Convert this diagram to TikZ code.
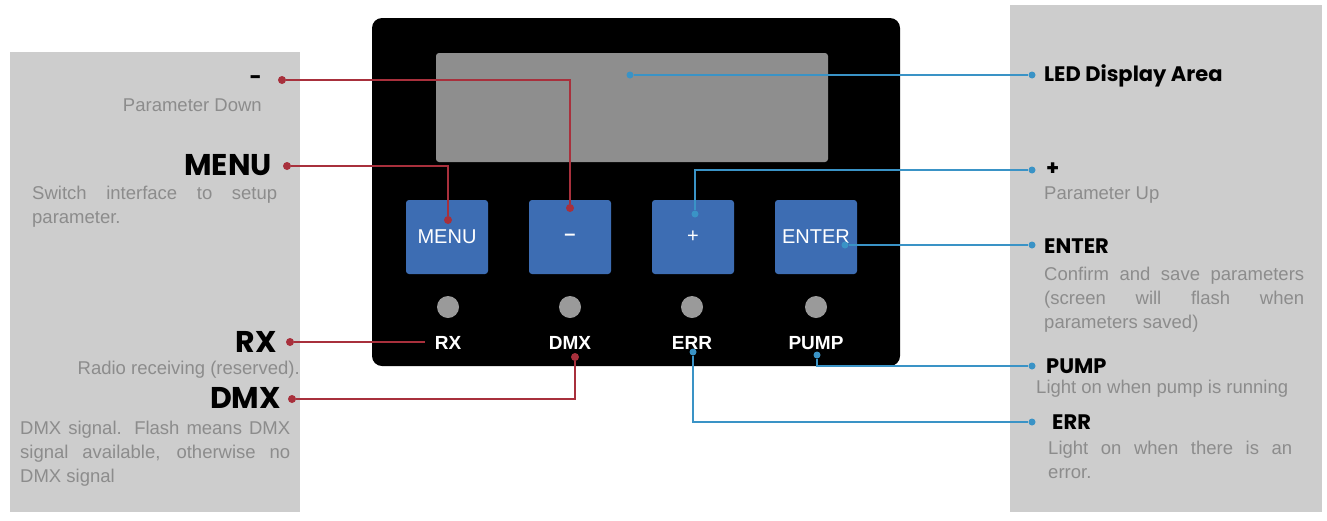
\documentclass[tikz,border=0pt]{standalone}
\usepackage{fontspec}
\setmainfont{Liberation Sans}
\newfontfamily\headfont{Poppins}
\definecolor{panelgray}{HTML}{CDCDCD}
\definecolor{bodygray}{HTML}{8C8C8C}
\definecolor{btnblue}{HTML}{3D6DB3}
\definecolor{lcdgray}{HTML}{8E8E8E}
\definecolor{ledgray}{HTML}{9A9A9A}
\definecolor{redline}{HTML}{A8303C}
\definecolor{blueline}{HTML}{3A93C6}
\newcommand{\spreadline}[2]{\makebox[#1][s]{#2}}
\begin{document}
\begin{tikzpicture}[x=1pt,y=-1pt,
        button/.style={draw=none, fill=btnblue, rounded corners=3pt, minimum width=82pt, minimum height=74pt, text=white, font=\fontsize{20}{22}\selectfont},
        led/.style={circle, fill=ledgray, minimum size=22pt, inner sep=0pt},
        ledlabel/.style={text=white, font=\bfseries\fontsize{19}{20}\selectfont},
        head/.style={font=\headfont\bfseries\fontsize{#1}{#1}\selectfont, inner sep=0pt},
        head/.default=21,
        body/.style={text=bodygray, font=\fontsize{18.5}{24}\selectfont, inner sep=0pt, align=left},
        redwire/.style={redline, line width=1.6pt},
        bluewire/.style={blueline, line width=1.6pt},
        reddot/.style={circle, fill=redline, minimum size=8pt, inner sep=0pt},
        bluedot/.style={circle, fill=blueline, minimum size=7pt, inner sep=0pt},
        ]

        \useasboundingbox (0,0) rectangle (1327,520);

        % Panels
        \fill[panelgray] (10,52) rectangle (300,512);
        \fill[panelgray] (1010,5) rectangle (1322,512);

        % Device
        \fill[black, rounded corners=10pt] (372,18) rectangle (900,366);
        \fill[lcdgray, rounded corners=3pt] (436,53) rectangle (828,162);

        % Buttons
        \node[button] (menu) at (447,237) {MENU};
        \node[button] (minus) at (570,237) {\textbf{--}};
        \node[button] (plus) at (693,237) {+};
        \node[button] (enter) at (816,237) {ENTER};

        % LEDs
        \node[led] (rxled) at (448,307) {};
        \node[led] (dmxled) at (570,307) {};
        \node[led] (errled) at (692,307) {};
        \node[led] (pumpled) at (816,307) {};
        \node[ledlabel] (rx) at (448,343) {RX};
        \node[ledlabel] (dmx) at (570,343) {DMX};
        \node[ledlabel] (err) at (692,343) {ERR};
        \node[ledlabel] (pump) at (816,343) {PUMP};

        % Left texts
        \node[head, anchor=east] (tminus) at (262,80) {-};
        \node[body, anchor=east] at (262,105) {Parameter Down};
        \node[head=30, anchor=east] (tmenu) at (272,165) {MENU};
        \node[body, anchor=north west] at (32,186) {\spreadline{245pt}{Switch interface to setup}\\parameter.};
        \node[head=30, anchor=east] (trx) at (277,342) {RX};
        \node[body, anchor=east] at (300,370) {Radio receiving (reserved).};
        \node[head=30, anchor=east] (tdmx) at (281,398) {DMX};
        \node[body, anchor=north west] at (20,421) {\spreadline{270pt}{DMX signal. Flash means DMX}\\\spreadline{270pt}{signal available, otherwise no}\\DMX signal};

        % Right texts
        \node[head, anchor=west] (tled) at (1044,76) {LED Display Area};
        \node[head, anchor=west] (tplus) at (1046,169) {+};
        \node[body, anchor=west] at (1044,195) {Parameter Up};
        \node[head, anchor=west] (tenter) at (1044,246) {ENTER};
        \node[body, anchor=north west] at (1044,267) {\spreadline{260pt}{Confirm and save parameters}\\\spreadline{260pt}{(screen will flash when}\\parameters saved)};
        \node[head, anchor=west] (tpump) at (1046,366) {PUMP};
        \node[body, anchor=west] at (1036,389) {Light on when pump is running};
        \node[head, anchor=west] (terr) at (1052,422) {ERR};
        \node[body, anchor=north west] at (1048,441) {\spreadline{244pt}{Light on when there is an}\\error.};

        % Red connectors
        \node[reddot] (d1) at (282,80) {};
        \node[reddot] (d1b) at (570,208) {};
        \draw[redwire] (d1) -| (d1b);
        \node[reddot] (d2) at (287,166) {};
        \node[reddot] (d2b) at (448,220) {};
        \draw[redwire] (d2) -| (d2b);
        \node[reddot] (d3) at (290,342) {};
        \coordinate (d3b) at (425,342);
        \draw[redwire] (d3) -- (d3b);
        \node[reddot] (d4) at (292,399) {};
        \node[reddot] (d4b) at (575,357) {};
        \draw[redwire] (d4) -| (d4b);

        % Blue connectors
        \node[bluedot] (b1) at (630,75) {};
        \node[bluedot] (b1b) at (1032,75) {};
        \draw[bluewire] (b1) -- (b1b);
        \node[bluedot] (b2) at (695,214) {};
        \node[bluedot] (b2b) at (1032,170) {};
        \draw[bluewire] (b2) |- (b2b);
        \node[bluedot] (b3) at (845,245) {};
        \node[bluedot] (b3b) at (1032,245) {};
        \draw[bluewire] (b3) -- (b3b);
        \node[bluedot] (b4) at (817,355) {};
        \node[bluedot] (b4b) at (1032,366) {};
        \draw[bluewire] (b4) |- (b4b);
        \node[bluedot] (b5) at (693,352) {};
        \node[bluedot] (b5b) at (1032,422) {};
        \draw[bluewire] (b5) |- (b5b);

    \end{tikzpicture}
\end{document}
